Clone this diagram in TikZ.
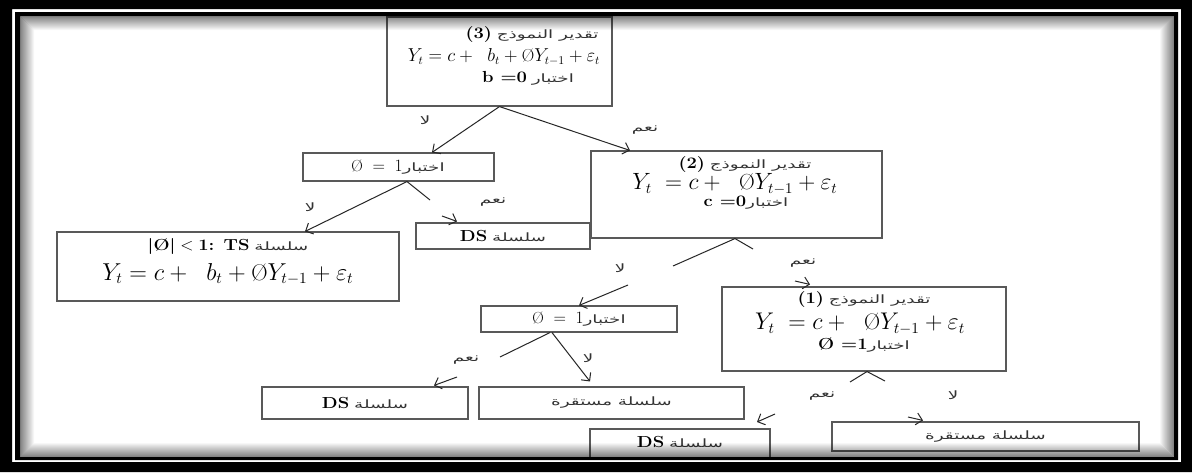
\documentclass[tikz,border=0pt]{standalone}
\usepackage{fontspec}
\usepackage{graphicx}
\usetikzlibrary{arrows.meta}
\TeXXeTstate=1
\newfontfamily\arabicfont[Script=Arabic,FakeStretch=1.6]{DejaVu Sans}
\newcommand{\artxt}[1]{{\color{black!80}\arabicfont\fontsize{11.5}{13}\selectfont\beginR #1\endR}}
\newcommand{\lbt}[1]{\scalebox{1.15}[1]{\fontsize{16}{18}\selectfont\bfseries #1}}
\newcommand{\phis}{\mbox{\O}}
\begin{document}
\begin{tikzpicture}[x=1pt,y=-1pt,
  box/.style={draw=black!65, line width=1.1pt, inner sep=0pt},
  txt/.style={inner sep=0pt, font=\fontsize{16}{18}\selectfont},
  lab/.style={inner sep=0pt},
  ln/.style={draw=black!85, line width=1pt},
  arr/.style={draw=black!85, line width=1pt, -{Straight Barb[length=6pt,width=12pt,line width=1pt]}}]
\useasboundingbox (0,0) rectangle (1192,472);
\fill[white] (0,0) rectangle (1192,472);
% boxes
\node[box, minimum width=225pt, minimum height=89pt] (b3) at (499.5,61.5) {};
\node[box, minimum width=191pt, minimum height=28pt] (phiA) at (398.5,167) {};
\node[box, minimum width=291pt, minimum height=87pt] (b2) at (736.5,194.5) {};
\node[box, minimum width=342pt, minimum height=69pt] (ts) at (228,266.5) {};
\node[box, minimum width=174pt, minimum height=26pt] (dsA) at (503,236) {};
\node[box, minimum width=196pt, minimum height=26pt] (phiB) at (579,319) {};
\node[box, minimum width=284pt, minimum height=84pt] (b1) at (864,329) {};
\node[box, minimum width=206pt, minimum height=32pt] (dsB) at (365,403) {};
\node[box, minimum width=265pt, minimum height=32pt] (stB) at (611.5,403) {};
\node[box, minimum width=180pt, minimum height=30pt] (dsC) at (680,444) {};
\node[box, minimum width=307pt, minimum height=29pt] (stC) at (985.5,436.5) {};
% texts
\node[txt] (b3a) at (532,35) {\lbt{(3)} \artxt{تقدير النموذج}};
\node[txt] (b3b) at (504,57) {\resizebox{192pt}{!}{$Y_t = c +\ \ b_t + \phis Y_{t-1} + \varepsilon_t$}};
\node[txt] (b3c) at (528,78) {\lbt{b =0} \artxt{اختبار}};
\node[txt] (pAt) at (398,167) {$\phis\ =\ 1$\artxt{اختبار}};
\node[txt] (b2a) at (745,165) {\lbt{(2)} \artxt{تقدير النموذج}};
\node[txt] (b2b) at (735,184) {\resizebox{205pt}{!}{$Y_t\ = c +\ \ \phis Y_{t-1} + \varepsilon_t$}};
\node[txt] (b2c) at (746,203) {\lbt{c =0}\artxt{اختبار}};
\node[txt] (tsa) at (228,246) {\lbt{|\O|} $<$ \lbt{1: TS} \artxt{سلسلة}};
\node[txt] (tsb) at (228,274) {\resizebox{251pt}{!}{$Y_t = c +\ \ b_t + \phis Y_{t-1} + \varepsilon_t$}};
\node[txt] (dsAt) at (503,236) {\lbt{DS} \artxt{سلسلة}};
\node[txt] (pBt) at (579,319) {$\phis\ =\ 1$\artxt{اختبار}};
\node[txt] (b1a) at (864,300) {\lbt{(1)} \artxt{تقدير النموذج}};
\node[txt] (b1b) at (860,324) {\resizebox{210pt}{!}{$Y_t\ = c +\ \ \phis Y_{t-1} + \varepsilon_t$}};
\node[txt] (b1c) at (864,345) {\lbt{\O\ =1}\artxt{اختبار}};
\node[txt] (dsBt) at (365,403) {\lbt{DS} \artxt{سلسلة}};
\node[txt] (stBt) at (611.5,403) {\artxt{سلسلة مستقرة}};
\node[txt] (dsCt) at (680,442) {\lbt{DS} \artxt{سلسلة}};
\node[txt] (stCt) at (985.5,436.5) {\artxt{سلسلة مستقرة}};
% labels
\node[lab] (l1) at (425,120) {\artxt{لا}};
\node[lab] (l2) at (645,130) {\artxt{نعم}};
\node[lab] (l3) at (310,207) {\artxt{لا}};
\node[lab] (l4) at (493,202) {\artxt{نعم}};
\node[lab] (l5) at (620,268) {\artxt{لا}};
\node[lab] (l6) at (803,263) {\artxt{نعم}};
\node[lab] (l7) at (466,360) {\artxt{نعم}};
\node[lab] (l8) at (588,358) {\artxt{لا}};
\node[lab] (l9) at (822,396) {\artxt{نعم}};
\node[lab] (l10) at (953,395) {\artxt{لا}};
% free coordinates
\coordinate (cA1) at (430,200);
\coordinate (cA2) at (442,216);
\coordinate (cB1) at (673,266);
\coordinate (cB2) at (628,285);
\coordinate (cB3) at (753,249);
\coordinate (cB4) at (795,281);
\coordinate (cC1) at (500,357);
\coordinate (cC2) at (457,377);
\coordinate (cD1) at (850,382);
\coordinate (cD2) at (885,381);
\coordinate (cD3) at (775,414);
\coordinate (cD4) at (757,422);
\coordinate (cD5) at (908,417);
% connectors
\draw[arr] (b3.south) -- ([xshift=33.5pt]phiA.north);
\draw[arr] (b3.south) -- ([xshift=-106.5pt]b2.north);
\draw[ln] ([xshift=8.5pt]phiA.south) -- (cA1);
\draw[arr] ([xshift=8.5pt]phiA.south) -- ([xshift=77pt]ts.north);
\draw[arr] (cA2) -- ([xshift=-46pt,yshift=1pt]dsA.north);
\draw[ln] ([xshift=-1.5pt]b2.south) -- (cB1);
\draw[ln] ([xshift=-1.5pt]b2.south) -- (cB3);
\draw[arr] (cB2) -- (phiB.north);
\draw[arr] (cB4) -- ([xshift=-54pt,yshift=2pt]b1.north);
\draw[ln] ([xshift=-29pt]phiB.south) -- (cC1);
\draw[arr] (cC2) -- ([xshift=69pt,yshift=1pt]dsB.north);
\draw[arr] ([xshift=-27pt]phiB.south) -- ([xshift=-21.5pt,yshift=5pt]stB.north);
\draw[ln] ([xshift=3pt]b1.south) -- (cD1);
\draw[ln] ([xshift=3pt]b1.south) -- (cD2);
\draw[arr] (cD3) -- (cD4);
\draw[arr] (cD5) -- ([xshift=-62.5pt,yshift=1pt]stC.north);
% frame
\fill[black, even odd rule] (0,0) rectangle (1192,472) (12,9) rectangle (1181,462);
\fill[black, even odd rule] (15,12) rectangle (1178,460) (20,16) rectangle (1174,457);
\foreach \i in {0,...,13}{
  \pgfmathsetmacro{\op}{0.45*(1-\i/14)}
  \fill[black, fill opacity=\op, even odd rule] (20+\i,16+\i) rectangle (1174-\i,457-\i) (21+\i,17+\i) rectangle (1173-\i,456-\i);
}
\end{tikzpicture}
\end{document}
